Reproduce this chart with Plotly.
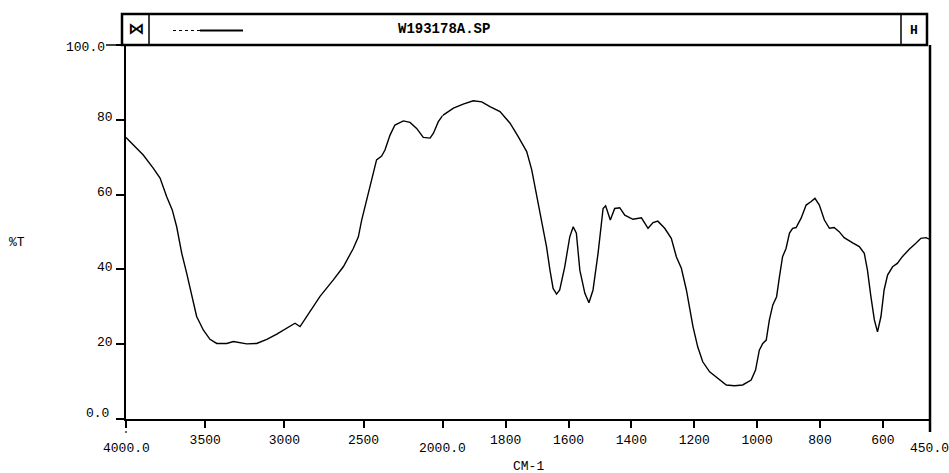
import numpy as np
import plotly.graph_objects as go

# Wavenumber (cm-1) and transmittance (%T)
wavenumber = [4000, 3954, 3891, 3827, 3785, 3743, 3708, 3680, 3648, 3617, 3585, 3554, 3512, 3470,
              3427, 3364, 3322, 3280, 3238, 3175, 3111, 3048, 2985, 2933, 2901, 2859, 2775, 2691,
              2628, 2565, 2533, 2512, 2481, 2449, 2418, 2386, 2365, 2333, 2302, 2249, 2207, 2165,
              2123, 2080, 2059, 2028, 2000, 1966, 1935, 1903, 1876, 1850, 1818, 1786, 1760, 1733,
              1717, 1702, 1686, 1670, 1659, 1649, 1638, 1628, 1612, 1596, 1585, 1575, 1564, 1548,
              1535, 1522, 1506, 1490, 1482, 1467, 1453, 1437, 1421, 1395, 1368, 1347, 1331, 1316,
              1294, 1273, 1257, 1241, 1225, 1215, 1204, 1189, 1173, 1151, 1120, 1098, 1072, 1046,
              1019, 1005, 993, 982, 971, 961, 950, 938, 929, 919, 908, 897, 887, 876, 860, 844,
              829, 816, 802, 786, 770, 755, 739, 723, 696, 675, 659, 649, 638, 627, 617, 606,
              596, 585, 569, 554, 538, 516, 495, 479, 463, 450]
transmittance = [75.3, 73.3, 70.6, 67.0, 64.4, 59.4, 55.9, 51.4, 44.3, 39.0, 32.7, 27.4, 23.8, 21.3,
                 20.2, 20.2, 20.7, 20.5, 20.1, 20.2, 21.3, 22.7, 24.2, 25.6, 24.7, 27.4, 32.8, 37.2,
                 40.7, 45.6, 48.7, 53.2, 58.6, 64.4, 69.3, 70.3, 71.9, 75.9, 78.6, 79.7, 79.3, 77.7,
                 75.3, 75.1, 76.4, 79.5, 81.2, 83.1, 84.2, 85.1, 84.8, 83.5, 82.2, 79.1, 75.5, 71.5,
                 66.6, 60.3, 53.2, 46.1, 39.8, 34.9, 33.4, 34.5, 40.7, 48.7, 51.4, 49.7, 39.8, 33.6,
                 31.1, 34.5, 44.3, 56.3, 57.0, 53.2, 56.3, 56.5, 54.5, 53.4, 53.8, 51.0, 52.5, 52.9,
                 51.0, 48.3, 43.4, 40.3, 34.5, 30.0, 24.7, 19.3, 15.3, 12.6, 10.4, 9.1, 8.9, 9.1,
                 10.4, 13.1, 18.4, 20.2, 21.1, 26.5, 30.5, 32.7, 38.0, 43.4, 45.6, 49.7, 51.0, 51.2, 53.7, 57.2,
                 58.1, 59.0, 57.2, 53.2, 51.0, 51.2, 50.1, 48.5, 47.1, 46.1, 44.3, 39.8, 32.7, 26.5, 23.3, 27.4,
                 34.5, 38.5, 40.7, 41.6, 43.4, 45.4, 47.0, 48.3, 48.5, 48.0]

x_ticks_high = [4000, 3500, 3000, 2500, 2000]
x_text_high = ["", "3500", "3000", "2500", ""]
x_ticks_low = [1800, 1600, 1400, 1200, 1000, 800, 600]
x_text_low = ["1800", "1600", "1400", "1200", "1000", "800", "600"]
y_ticks = [0, 20, 40, 60, 80, 100]
y_text = ["", "20", "40", "60", "80", ""]
title_text = "W193178A.SP"

w = np.array(wavenumber)
t = np.array(transmittance)
hi = w >= 2000
lo = w <= 2000

FONT = "Liberation Mono"
fig = go.Figure()
fig.add_trace(go.Scatter(x=w[hi], y=t[hi], mode="lines", line=dict(color="black", width=1.4),
                         xaxis="x", yaxis="y", showlegend=False))
fig.add_trace(go.Scatter(x=w[lo], y=t[lo], mode="lines", line=dict(color="black", width=1.4),
                         xaxis="x2", yaxis="y", showlegend=False))

split = 0.394
axis_common = dict(showgrid=False, zeroline=False, showline=True, linecolor="black", linewidth=2,
                   ticks="outside", ticklen=7, tickwidth=1.5, tickcolor="black",
                   tickfont=dict(family=FONT, size=13, color="black"), anchor="y")
fig.update_layout(
    width=949, height=473,
    margin=dict(l=126, r=19, t=45, b=54),
    paper_bgcolor="white", plot_bgcolor="white",
    xaxis=dict(domain=[0, split], range=[4000, 2000], tickmode="array",
               tickvals=x_ticks_high, ticktext=x_text_high, **axis_common),
    xaxis2=dict(domain=[split, 1], range=[2000, 450], tickmode="array",
                tickvals=x_ticks_low, ticktext=x_text_low, **axis_common),
    yaxis=dict(range=[0, 100], tickmode="array", tickvals=y_ticks, ticktext=y_text,
               showgrid=False, zeroline=False, showline=True, linecolor="black", linewidth=1.5,
               ticks="outside", ticklen=8, tickwidth=1.5, tickcolor="black",
               ticklabelstandoff=1, ticklabelshift=-3,
               tickfont=dict(family=FONT, size=13, color="black")),
)

ann = []
# end labels of x axis (lower than others)
for txt, xv, xr in [("4000.0", 4000, "x"), ("2000.0", 2000, "x"), ("450.0", 450, "x2")]:
    ann.append(dict(text=txt, x=xv, xref=xr, y=0, yref="paper", yanchor="top", xanchor="center",
                    yshift=-20, showarrow=False, font=dict(family=FONT, size=13, color="black")))
ann.append(dict(text="100.0", x=0, xref="paper", y=100, yref="y", xanchor="right", yanchor="middle",
                xshift=-19, yshift=-2, showarrow=False, font=dict(family=FONT, size=13, color="black")))
ann.append(dict(text="0.0", x=0, xref="paper", y=0, yref="y", xanchor="right", yanchor="middle",
                xshift=-15, yshift=6, showarrow=False, font=dict(family=FONT, size=13, color="black")))
ann.append(dict(text="%T", x=-0.135, xref="paper", y=0.473, yref="paper", showarrow=False,
                xanchor="center", yanchor="middle", font=dict(family=FONT, size=13, color="black")))
ann.append(dict(text="CM-1", x=0.5, xref="paper", y=-0.128, yref="paper", showarrow=False,
                xanchor="center", yanchor="middle", font=dict(family=FONT, size=13, color="black")))
ann.append(dict(text="<b>" + title_text + "</b>", x=0.3955, xref="paper", y=1.043, yref="paper",
                xanchor="center", yanchor="middle", showarrow=False,
                font=dict(family=FONT, size=14, color="black")))
ann.append(dict(text="<b>⋈</b>", x=(136 - 126) / 804, xref="paper", y=1.043, yref="paper",
                xanchor="center", yanchor="middle", showarrow=False,
                font=dict(family="DejaVu Sans", size=16, color="black")))
ann.append(dict(text="<b>H</b>", x=(914 - 126) / 804, xref="paper", y=1.040, yref="paper",
                xanchor="center", yanchor="middle", showarrow=False,
                font=dict(family=FONT, size=13, color="black")))
fig.update_layout(annotations=ann)

def px(xp):
    return (xp - 126) / 804

def py(yp):
    return (419 - yp) / 374

shapes = [
    # header box
    dict(type="rect", xref="paper", yref="paper", x0=px(122), x1=px(927), y0=py(45), y1=py(14),
         line=dict(color="black", width=2.5)),
    dict(type="line", xref="paper", yref="paper", x0=px(149), x1=px(149), y0=py(45), y1=py(14),
         line=dict(color="black", width=1.5)),
    dict(type="line", xref="paper", yref="paper", x0=px(901), x1=px(901), y0=py(45), y1=py(14),
         line=dict(color="black", width=1.5)),
    # legend-like line in header
    dict(type="line", xref="paper", yref="paper", x0=px(173), x1=px(200), y0=py(30.5), y1=py(30.5),
         line=dict(color="black", width=1.2, dash="dot")),
    dict(type="line", xref="paper", yref="paper", x0=px(200), x1=px(243), y0=py(30.5), y1=py(30.5),
         line=dict(color="black", width=2)),
    # right frame line
    dict(type="line", xref="paper", yref="paper", x0=px(930), x1=px(930), y0=py(45), y1=py(432),
         line=dict(color="black", width=2.5)),
    # left line extends below axis
    dict(type="line", xref="paper", yref="paper", x0=px(126), x1=px(126), y0=py(419), y1=py(433),
         line=dict(color="black", width=1.2, dash="dot")),
    # long tick at 100
    dict(type="line", xref="paper", yref="paper", x0=px(106), x1=px(126), y0=py(45), y1=py(45),
         line=dict(color="black", width=1.5)),
]
fig.update_layout(shapes=shapes)

fig.write_html("out.html")
